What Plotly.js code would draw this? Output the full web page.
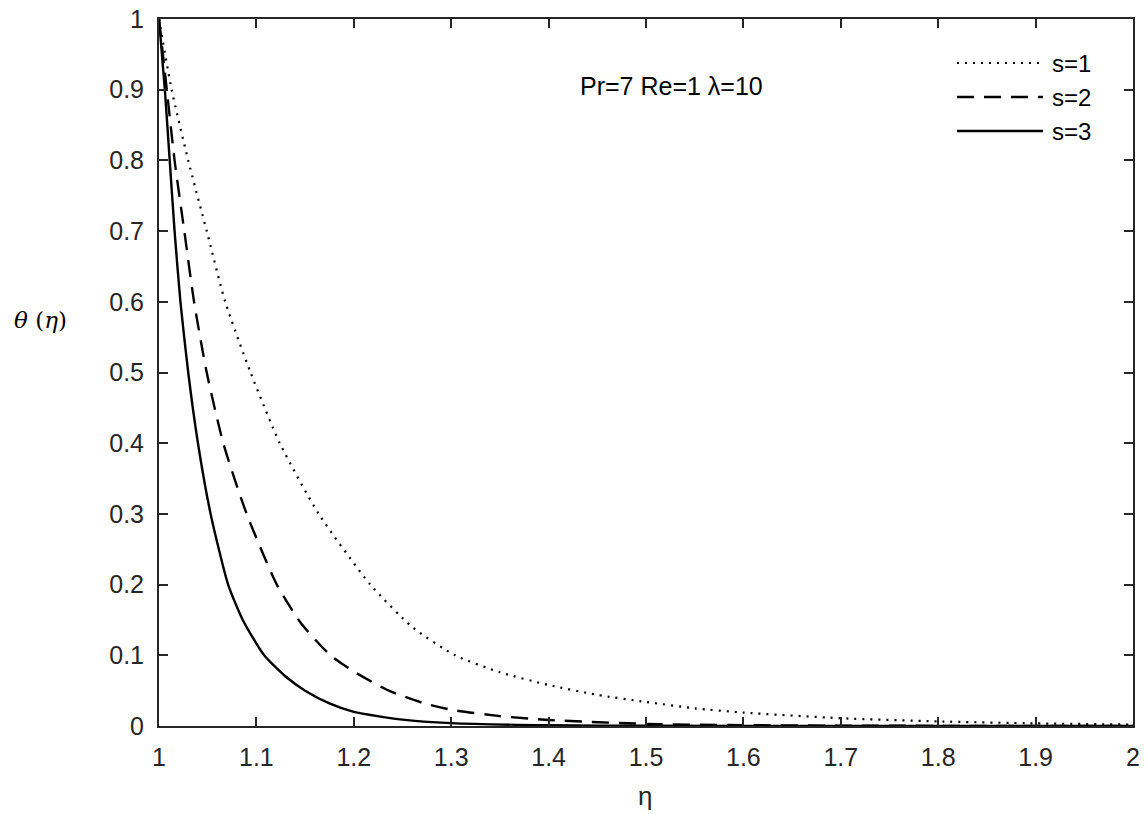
<!DOCTYPE html>
<html>
<head>
<meta charset="utf-8">
<script src="https://cdn.plot.ly/plotly-3.0.1.min.js"></script>
<style>html,body{margin:0;padding:0;background:#fff;}#chart{width:1145px;height:814px;}</style>
</head>
<body>
<div id="chart"></div>
<script>
// s = 1 (dotted)
const eta1   = [1.000, 1.013, 1.030, 1.049, 1.068, 1.094, 1.124, 1.164, 1.217, 1.260, 1.304, 1.350, 1.400, 1.450, 1.500, 1.550, 1.600, 1.700, 1.800, 1.900, 2.000];
const theta1 = [1.000, 0.900, 0.800, 0.700, 0.600, 0.500, 0.400, 0.300, 0.200, 0.140, 0.100, 0.076, 0.058, 0.044, 0.034, 0.025, 0.019, 0.011, 0.0065, 0.0037, 0.002];
// s = 2 (dashed)
const eta2   = [1.000, 1.008, 1.016, 1.026, 1.036, 1.049, 1.066, 1.090, 1.121, 1.146, 1.176, 1.200, 1.236, 1.270, 1.300, 1.350, 1.400, 1.500, 1.600, 1.700, 1.800, 2.000];
const theta2 = [1.000, 0.900, 0.800, 0.700, 0.600, 0.500, 0.400, 0.300, 0.200, 0.145, 0.100, 0.077, 0.050, 0.033, 0.023, 0.014, 0.0085, 0.003, 0.0012, 0.0005, 0.0002, 0.0000];
// s = 3 (solid)
const eta3   = [1.000, 1.006, 1.011, 1.016, 1.022, 1.030, 1.040, 1.053, 1.071, 1.086, 1.108, 1.130, 1.150, 1.175, 1.200, 1.250, 1.300, 1.400, 1.500, 1.700, 2.000];
const theta3 = [1.000, 0.900, 0.800, 0.700, 0.600, 0.500, 0.400, 0.300, 0.200, 0.150, 0.100, 0.070, 0.050, 0.032, 0.020, 0.009, 0.004, 0.001, 0.0003, 0.0000, 0.0000];

const seriesNames = ['s=1', 's=2', 's=3'];
const seriesDash = ['2px,6px', '17px,10px', 'solid'];
const xTicks = [1, 1.1, 1.2, 1.3, 1.4, 1.5, 1.6, 1.7, 1.8, 1.9, 2];
const xTickText = ['1', '1.1', '1.2', '1.3', '1.4', '1.5', '1.6', '1.7', '1.8', '1.9', '2'];
const yTicks = [0, 0.1, 0.2, 0.3, 0.4, 0.5, 0.6, 0.7, 0.8, 0.9, 1];
const yTickText = ['0', '0.1', '0.2', '0.3', '0.4', '0.5', '0.6', '0.7', '0.8', '0.9', '1'];

const ink = '#000000';
const axisInk = '#262626';
const xs = [eta1, eta2, eta3];
const ys = [theta1, theta2, theta3];
const widths = [2.2, 2.4, 2.4];
const traces = xs.map((x, i) => ({
  x: x, y: ys[i], name: seriesNames[i], mode: 'lines', showlegend: false,
  line: {color: ink, width: widths[i], dash: seriesDash[i], shape: 'spline', smoothing: 0.6}
}));

const W = 1145, H = 814, L = 159, R = 12, T = 19, B = 88;
const pw = W - L - R, ph = H - T - B;
const px = v => (v - L) / pw;
const py = v => (H - B - v) / ph;

const fontFam = 'Liberation Sans, Arial, sans-serif';
// hand-built legend (long line samples like the original)
const legY = [63, 97, 131];
const shapes = seriesNames.map((n, i) => ({
  type: 'line', xref: 'paper', yref: 'paper',
  x0: px(957), x1: px(1043), y0: py(legY[i]), y1: py(legY[i]),
  line: {color: ink, width: widths[i], dash: seriesDash[i]}
}));
const legendText = seriesNames.map((n, i) => ({
  xref: 'paper', yref: 'paper', x: px(1050), y: py(legY[i]), xanchor: 'left', yanchor: 'middle',
  showarrow: false, text: n, font: {family: fontFam, size: 24, color: '#000'}
}));

const layout = {
  width: W, height: H,
  margin: {l: L, r: R, t: T, b: B},
  paper_bgcolor: '#ffffff', plot_bgcolor: '#ffffff',
  font: {family: fontFam, color: axisInk, size: 25},
  showlegend: false,
  xaxis: {
    range: [1, 2], tickvals: xTicks, ticktext: xTickText,
    ticks: 'inside', ticklen: 9, tickwidth: 2, tickcolor: axisInk,
    showline: true, linecolor: axisInk, linewidth: 2, mirror: 'ticks',
    showgrid: false, zeroline: false, ticklabelstandoff: 8,
    tickfont: {family: fontFam, size: 25, color: axisInk}
  },
  yaxis: {
    range: [0, 1], tickvals: yTicks, ticktext: yTickText,
    ticks: 'inside', ticklen: 9, tickwidth: 2, tickcolor: axisInk,
    showline: true, linecolor: axisInk, linewidth: 2, mirror: 'ticks',
    showgrid: false, zeroline: false, ticklabelstandoff: 8,
    tickfont: {family: fontFam, size: 25, color: axisInk}
  },
  shapes: shapes,
  annotations: legendText.concat([
    {xref: 'paper', yref: 'paper', x: px(645), y: py(796), xanchor: 'center', yanchor: 'middle', showarrow: false,
     text: 'η', font: {family: fontFam, size: 26, color: axisInk}},
    {xref: 'paper', yref: 'paper', x: px(671), y: py(86), xanchor: 'center', yanchor: 'middle', showarrow: false,
     text: 'Pr=7 Re=1 λ=10', font: {family: fontFam, size: 25, color: '#000'}},
    {xref: 'paper', yref: 'paper', x: px(40), y: py(320), xanchor: 'center', yanchor: 'middle', showarrow: false,
     text: '<i>θ</i> (<i>η</i>)', font: {family: 'DejaVu Serif, serif', size: 23, color: '#000'}}
  ])
};

Plotly.newPlot('chart', traces, layout, {displayModeBar: false, staticPlot: true});
</script>
</body>
</html>
